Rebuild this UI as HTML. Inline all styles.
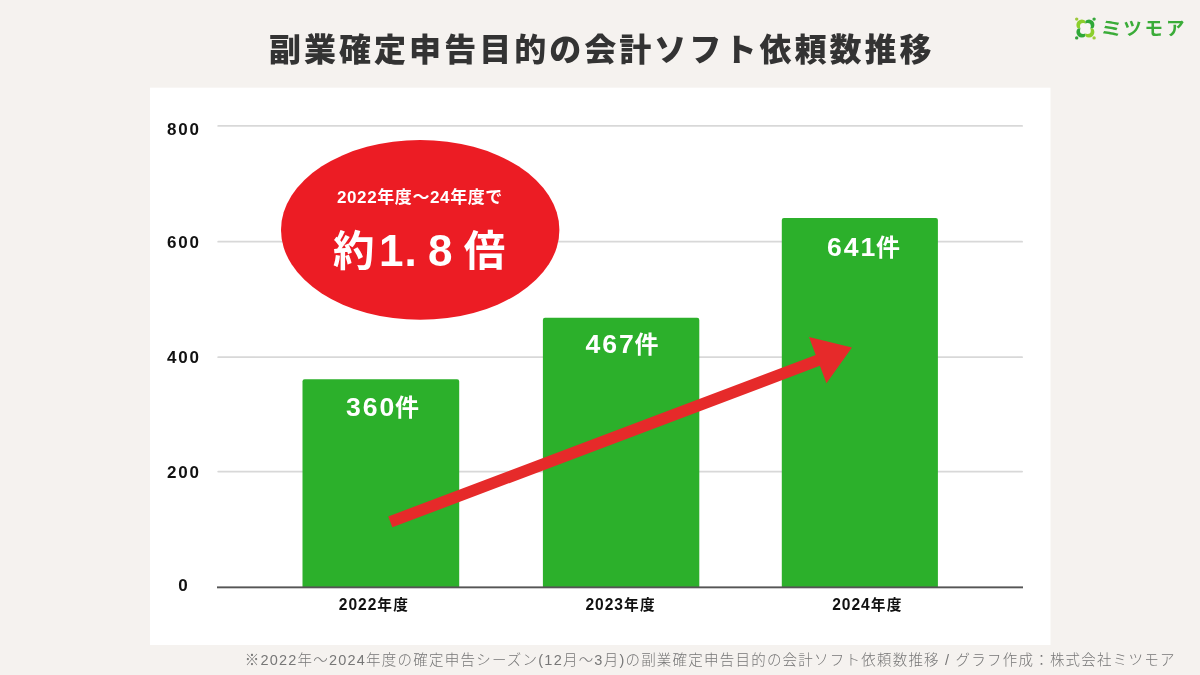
<!DOCTYPE html>
<html lang="ja">
<head>
<meta charset="utf-8">
<title>副業確定申告目的の会計ソフト依頼数推移</title>
<style>
html,body{margin:0;padding:0;}
body{width:1200px;height:675px;overflow:hidden;background:#f5f2ef;position:relative;
  font-family:"Liberation Sans","Noto Sans CJK JP",sans-serif;}
.abs{position:absolute;white-space:nowrap;line-height:1;}
#title{left:269px;top:34px;font-size:32px;font-weight:900;letter-spacing:3.03px;color:#333;}
.ylab{width:60px;left:153px;text-align:center;font-size:17px;font-weight:700;letter-spacing:1.8px;text-indent:1.8px;color:#111;}
.val{color:#fff;font-weight:700;font-size:24px;letter-spacing:2.4px;text-align:center;}
.val .d{font-size:26.6px;letter-spacing:1.9px;margin-right:-1.1px;}
.xlab{font-size:14.7px;font-weight:700;color:#111;letter-spacing:1.3px;}
.xlab .d{font-size:15.6px;letter-spacing:.95px;}
#e1{color:#fff;font-weight:700;font-size:17px;letter-spacing:.6px;left:337px;top:189px;}
#e2{color:#fff;font-weight:700;font-size:41.5px;letter-spacing:2px;left:333px;top:228.5px;}
#e2 .n{font-size:44px;}
#foot{left:244.7px;top:653px;font-size:14.5px;font-weight:300;color:#777;letter-spacing:1.22px;}
#logotxt{left:1102px;top:19.7px;font-size:18.5px;font-weight:700;color:#3aac38;letter-spacing:2.8px;}
</style>
</head>
<body>
<div id="title" class="abs">副業確定申告目的の会計ソフト依頼数推移</div>

<svg class="abs" style="left:0;top:0" width="1200" height="675" viewBox="0 0 1200 675">
  <rect x="150" y="87.7" width="900.5" height="557.3" fill="#fff"/>
  <g stroke="#d8d8d8" stroke-width="1.8" stroke-linecap="round">
    <line x1="218.2" y1="125.9" x2="1022.1" y2="125.9"/>
    <line x1="218.2" y1="241.7" x2="1022.1" y2="241.7"/>
    <line x1="218.2" y1="357.2" x2="1022.1" y2="357.2"/>
    <line x1="218.2" y1="471.6" x2="1022.1" y2="471.6"/>
  </g>
  <g fill="#2cb02b">
    <path d="M302.5,588 V381.4 a2.1,2.1 0 0 1 2.1,-2.1 H457.1 a2.1,2.1 0 0 1 2.1,2.1 V588 Z"/>
    <path d="M542.9,588 V319.9 a2.1,2.1 0 0 1 2.1,-2.1 H697.2 a2.1,2.1 0 0 1 2.1,2.1 V588 Z"/>
    <path d="M781.8,588 V220.1 a2.1,2.1 0 0 1 2.1,-2.1 H935.8 a2.1,2.1 0 0 1 2.1,2.1 V588 Z"/>
  </g>
  <rect x="217" y="586.4" width="806" height="1.9" fill="#555"/>
  <ellipse cx="420.2" cy="229.9" rx="139.2" ry="89.9" fill="#ec1c24"/>
  <g transform="translate(390.3,521.9) rotate(-20.7)">
    <polygon points="0,-5.8 457,-5.8 457,-24.9 493.5,0 457,24.5 457,5.8 0,5.8" fill="#e62a2a"/>
  </g>
</svg>

<div class="abs ylab" style="top:120.6px">800</div>
<div class="abs ylab" style="top:234.4px">600</div>
<div class="abs ylab" style="top:349px">400</div>
<div class="abs ylab" style="top:464.3px">200</div>
<div class="abs ylab" style="top:576.8px">0</div>

<div class="abs val" style="left:346px;top:394.3px"><span class="d">360</span>件</div>
<div class="abs val" style="left:585.5px;top:330.8px"><span class="d">467</span>件</div>
<div class="abs val" style="left:827px;top:234px"><span class="d">641</span>件</div>

<div class="abs xlab" style="left:338.8px;top:596.5px"><span class="d">2022</span>年度</div>
<div class="abs xlab" style="left:585.5px;top:596.5px"><span class="d">2023</span>年度</div>
<div class="abs xlab" style="left:832.2px;top:596.5px"><span class="d">2024</span>年度</div>

<div id="e1" class="abs">2022年度～24年度で</div>
<div id="e2" class="abs">約<span class="n" style="margin-left:2.5px">1</span><span class="n" style="margin-left:-1px">.</span><span class="n" style="margin:0 9.3px 0 9.2px">8</span>倍</div>

<div id="foot" class="abs">※2022年～2024年度の確定申告シーズン(12月～3月)の副業確定申告目的の会計ソフト依頼数推移 / グラフ作成：株式会社ミツモア</div>

<svg class="abs" style="left:1071px;top:14px" width="28" height="28" viewBox="-14.4 -14.5 28 28">
  <clipPath id="q0"><rect x="-12" y="-12" width="12" height="12"/></clipPath>
  <circle clip-path="url(#q0)" cx="-3.6" cy="-3.6" r="5.4" fill="#8ccf2c"/>
  <clipPath id="q1"><rect x="0" y="-12" width="12" height="12"/></clipPath>
  <circle clip-path="url(#q1)" cx="3.6" cy="-3.6" r="5.4" fill="#2fa838"/>
  <clipPath id="q2"><rect x="-12" y="0" width="12" height="12"/></clipPath>
  <circle clip-path="url(#q2)" cx="-3.6" cy="3.6" r="5.4" fill="#2fa838"/>
  <clipPath id="q3"><rect x="0" y="0" width="12" height="12"/></clipPath>
  <circle clip-path="url(#q3)" cx="3.6" cy="3.6" r="5.4" fill="#8ccf2c"/>
  <circle cx="-2.2" cy="-2.2" r="3.2" fill="#f7f5f3"/>
  <circle cx="2.2" cy="-2.2" r="3.2" fill="#f7f5f3"/>
  <circle cx="-2.2" cy="2.2" r="3.2" fill="#f7f5f3"/>
  <circle cx="2.2" cy="2.2" r="3.2" fill="#f7f5f3"/>
  <circle cx="-8.7" cy="-9.4" r="1.7" fill="#9cc83a"/>
  <circle cx="8.7" cy="-9.4" r="1.7" fill="#36a83c"/>
  <circle cx="-8.7" cy="9.4" r="1.7" fill="#36a03c"/>
  <circle cx="8.7" cy="9.4" r="1.7" fill="#9ccc38"/>
</svg>
<div id="logotxt" class="abs"><span style="display:inline-block;transform:translateX(.5px) scaleX(1.26)">ミ</span>ツモア</div>
</body>
</html>
